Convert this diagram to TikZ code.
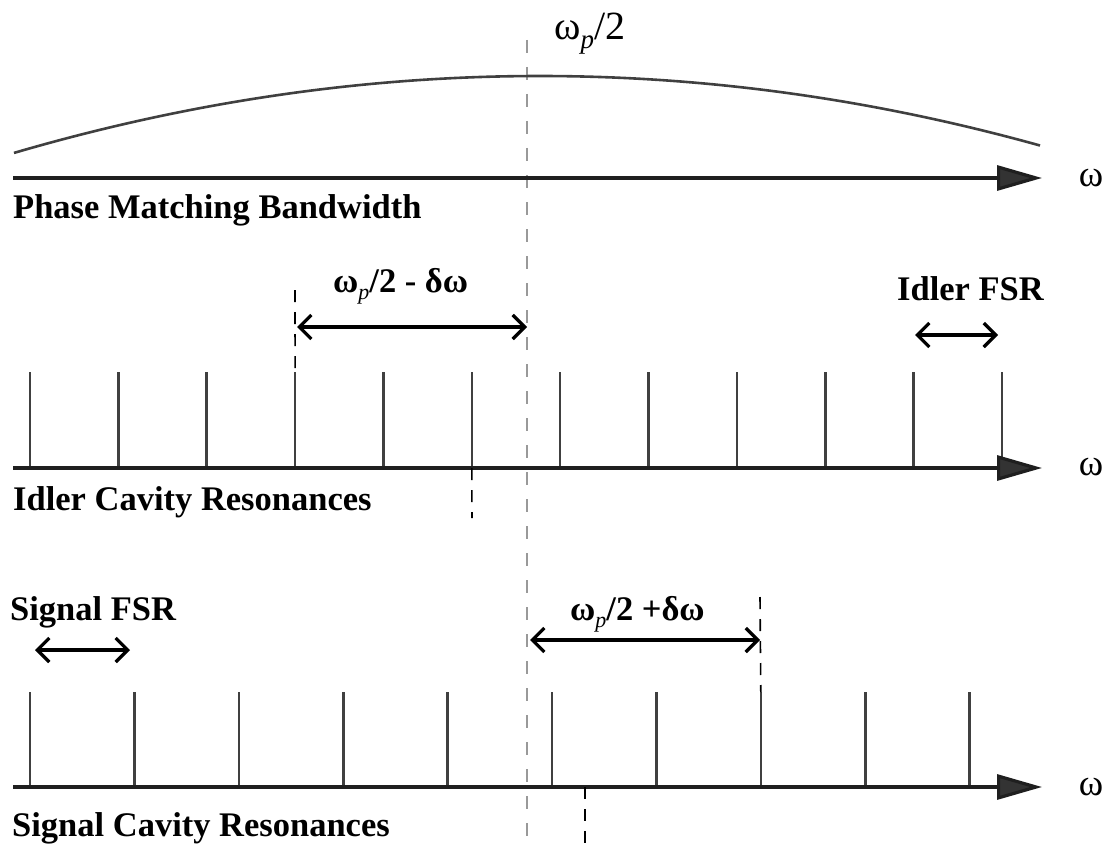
\documentclass[tikz,border=0pt]{standalone}
\usepackage{fontspec}
\setmainfont{Liberation Serif}
\usetikzlibrary{arrows.meta}
\newcommand{\subp}{\raisebox{-0.45ex}{\fontsize{22}{22}\selectfont\mdseries\itshape p}}
\begin{document}
\begin{tikzpicture}[x=1pt,y=-1pt,
  axisline/.style={line width=3.2pt, draw=black!88, -{Triangle[length=45pt,width=25pt,fill=black!80]}},
  tickline/.style={line width=2.6pt, draw=black!75},
  refline/.style={line width=2.2pt, draw=black!40, dash pattern=on 13pt off 14pt},
  guide/.style={line width=1.6pt, draw=black, dash pattern=on 12pt off 10pt},
  span/.style={line width=3.2pt, draw=black, {Straight Barb[length=12pt,width=24pt]}-{Straight Barb[length=12pt,width=24pt]}},
  curveline/.style={line width=2.6pt, draw=black!75},
  lbl/.style={font=\fontsize{34.5}{35}\selectfont\bfseries, anchor=base west, inner sep=0pt},
  omg/.style={font=\fontsize{37}{37}\selectfont, anchor=center, inner sep=0pt}]
\useasboundingbox (0,0) rectangle (1108,848);

% central reference line
\coordinate (rt) at (527,40);
\coordinate (rb) at (527,848);
\draw[refline] (rt) -- (rb);

% ---------- Phase matching ----------
\draw[curveline] plot[domain=14:1040,samples=90] (\x,{76+2.78*((\x-540)/100)^2});
\coordinate (a0s) at (13,178);
\coordinate (a0e) at (1042,178);
\draw[axisline] (a0s) -- (a0e);
\node[omg] (w0) at (1091,178) {ω};
\node[lbl] (pmb) at (13,218) {Phase Matching Bandwidth};
\node[anchor=base west, inner sep=0pt, font=\fontsize{40}{40}\selectfont] (wp2) at (554,40) {ω\raisebox{-0.45ex}{\fontsize{27}{27}\selectfont\itshape p}/2};

% ---------- Idler ----------
\coordinate (a1s) at (13,468);
\coordinate (a1e) at (1042,468);
\foreach \i in {0,...,11} {
  \coordinate (it\i b) at ({30+88.36*\i},468);
  \coordinate (it\i t) at ({30+88.36*\i},372);
  \draw[tickline] (it\i b) -- (it\i t);
}
\draw[axisline] (a1s) -- (a1e);
\node[omg] (w1) at (1091,467) {ω};
\node[lbl] (icr) at (13,510) {Idler Cavity Resonances};

\coordinate (ig1) at (295,290);
\draw[guide] (ig1) -- (it3t);
\coordinate (ig2) at (472,518);
\draw[guide] (it5b) -- (ig2);

\coordinate (ia1) at (297,327);
\coordinate (ia2) at (527,327);
\draw[span] (ia1) -- (ia2);
\node[lbl] (idl) at (333,292) {ω\subp/2 - δω};

\coordinate (if1) at (915,335);
\coordinate (if2) at (998,335);
\draw[span] (if1) -- (if2);
\node[lbl] (ifsr) at (897,300) {Idler FSR};

% ---------- Signal ----------
\coordinate (a2s) at (13,787);
\coordinate (a2e) at (1042,787);
\foreach \i in {0,...,9} {
  \coordinate (st\i b) at ({30+104.4*\i},787);
  \coordinate (st\i t) at ({30+104.4*\i},692);
  \draw[tickline] (st\i b) -- (st\i t);
}
\draw[axisline] (a2s) -- (a2e);
\node[omg] (w2) at (1091,787) {ω};
\node[lbl] (scr) at (12,836) {Signal Cavity Resonances};

\coordinate (sg1) at (760,597);
\draw[guide] (sg1) -- (st7t);
\coordinate (sg2a) at (585,787);
\coordinate (sg2b) at (585,848);
\draw[guide] (sg2a) -- (sg2b);

\coordinate (sa1) at (530,640);
\coordinate (sa2) at (760,640);
\draw[span] (sa1) -- (sa2);
\node[lbl] (sdl) at (570,620) {ω\subp/2 +δω};

\coordinate (sf1) at (35,650);
\coordinate (sf2) at (130,650);
\draw[span] (sf1) -- (sf2);
\node[lbl] (sfsr) at (10,620) {Signal FSR};
\end{tikzpicture}
\end{document}
